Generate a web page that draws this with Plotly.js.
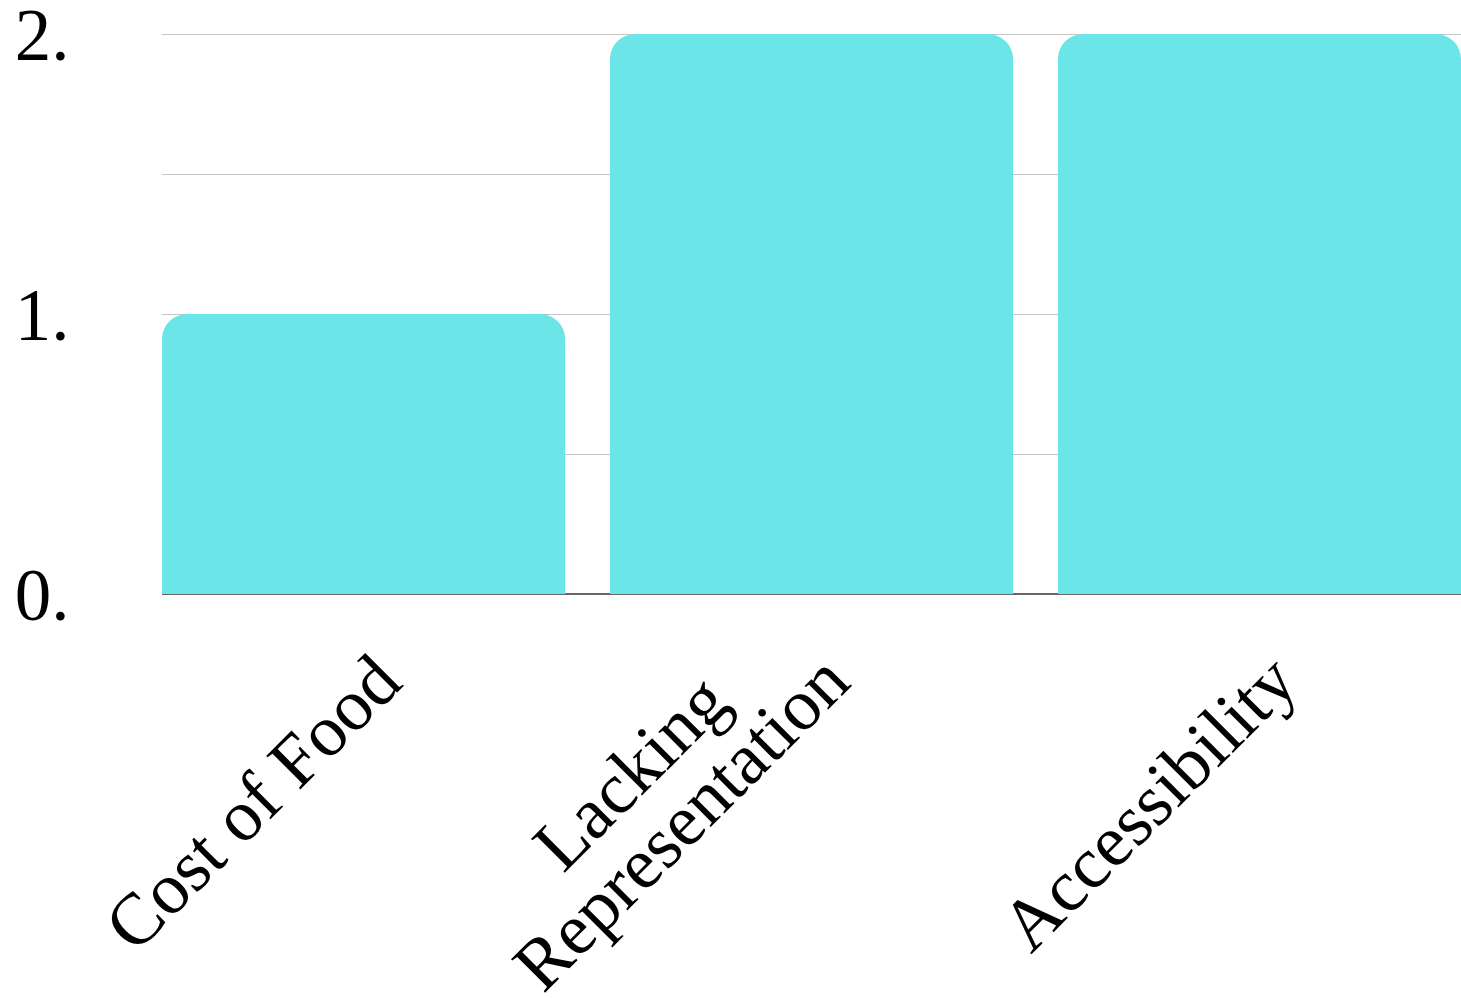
<!DOCTYPE html>
<html>
<head>
<meta charset="utf-8">
<script src="https://cdn.plot.ly/plotly-3.0.1.min.js"></script>
<style>html,body{margin:0;padding:0;background:#fff;}#chart{width:1461px;height:998px;}</style>
</head>
<body>
<div id="chart"></div>
<script>
const categories = ["Cost of Food", "Lacking Representation", "Accessibility"];
const tickLabels = ["Cost of Food", "Lacking<br>Representation", "Accessibility"];
const values = [1, 2, 2];
const yTickVals = [0, 0.5, 1, 1.5, 2];
const yTickText = ["0.", "", "1.", "", "2."];

const FONT = "Liberation Serif";
const FSIZE = 73;
const LINE_GAP = 71;          // distance between stacked label lines (px)
const END_DX = 24, END_DY = 74; // end of the longest label line, relative to the tick (px)

// measure text widths to centre multi-line labels
const ctx = document.createElement("canvas").getContext("2d");
ctx.font = FSIZE + "px '" + FONT + "'";
const r2 = Math.SQRT1_2;
const u = [r2, -r2];   // text direction at -45°
const n = [r2, r2];    // down direction in rotated text frame

const annotations = [];
categories.forEach((c, i) => {
  const lines = tickLabels[i].split("<br>");
  const widths = lines.map(t => ctx.measureText(t).width);
  const maxW = Math.max(...widths);
  const cx = END_DX - (maxW / 2) * u[0];
  const cy = END_DY - (maxW / 2) * u[1];
  const N = lines.length;
  lines.forEach((t, k) => {
    const off = (N - 1 - k) * LINE_GAP;
    const dx = cx - off * n[0];
    const dy = cy - off * n[1];
    annotations.push({
      x: c, y: 0, xref: "x", yref: "y",
      text: t, textangle: -45, showarrow: false,
      xanchor: "center", yanchor: "middle",
      xshift: dx, yshift: -dy,
      font: {family: FONT, size: FSIZE, color: "#000"}
    });
  });
});

const trace = {
  type: "bar",
  x: categories,
  y: values,
  marker: {color: "#6be5e8", cornerradius: 25},
  hoverinfo: "none"
};

const layout = {
  width: 1461,
  height: 998,
  margin: {l: 162, r: 0, t: 30, b: 404},
  paper_bgcolor: "#ffffff",
  plot_bgcolor: "#ffffff",
  showlegend: false,
  bargap: 0.1,
  font: {family: FONT, color: "#000", size: FSIZE},
  annotations: annotations,
  xaxis: {
    type: "category",
    range: [-0.45, 2.45],
    showgrid: false,
    zeroline: false,
    showline: false,
    showticklabels: false,
    ticks: ""
  },
  yaxis: {
    range: [0, 2.0143],
    tickmode: "array",
    tickvals: yTickVals,
    ticktext: yTickText,
    showgrid: true,
    gridcolor: "#c4c4c4",
    gridwidth: 1,
    zeroline: true,
    zerolinecolor: "#666666",
    zerolinewidth: 2,
    showline: false,
    ticks: "outside",
    ticklen: 77,
    tickcolor: "rgba(0,0,0,0)",
    ticklabeloverflow: "allow",
    tickfont: {size: FSIZE, family: FONT, color: "#000"}
  }
};

Plotly.newPlot("chart", [trace], layout, {staticPlot: true, displayModeBar: false});
</script>
</body>
</html>
